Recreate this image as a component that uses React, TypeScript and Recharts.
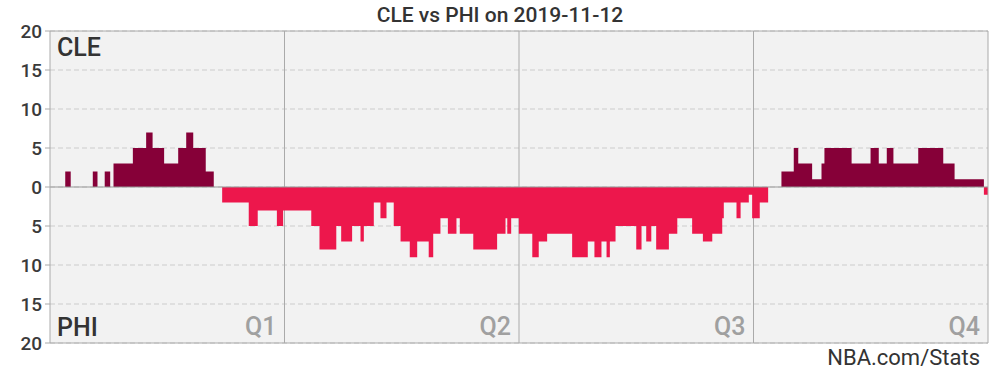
import {
  ComposedChart,
  Area,
  XAxis,
  YAxis,
  CartesianGrid,
  ReferenceLine,
} from 'recharts'

// game clock in minutes where the margin changes, and the margin (CLE - PHI) from then on
const changeTimes = [
  0, 0.78, 1.06, 2.19, 2.43, 2.8, 3.08, 3.25, 4.24, 4.92, 5.25, 5.84, 6.56, 6.97, 7.33,
  7.97, 8.38, 8.81, 10.17, 10.63, 11.61, 11.93, 13.37, 13.79, 14.65, 14.9, 15.46, 15.89,
  16.06, 16.57, 16.91, 17.22, 17.59, 17.94, 18.41, 18.79, 19.38, 19.61, 19.98, 20.36,
  20.8, 20.97, 21.66, 22.88, 23.31, 23.4, 23.6, 23.99, 24.68, 25.01, 25.44, 26.72, 27.52,
  27.86, 28.22, 28.48, 28.65, 28.94, 30.0, 30.27, 30.51, 30.77, 31.02, 31.67, 32.1,
  32.86, 33.41, 33.89, 34.4, 34.48, 35.13, 35.34, 35.76, 35.93, 36.32, 36.75, 37.43,
  38.06, 38.29, 39.0, 39.48, 39.63, 41.02, 41.99, 42.41, 42.82, 43.16, 44.43, 45.71,
  46.29, 47.79,
]
const margins = [
  0, 2, 0, 2, 0, 2, 0, 3, 5, 7, 5, 3, 5, 7, 5,
  2, 0, -2, -5, -3, -5, -3, -5, -8, -5, -7, -5, -7,
  -5, -2, -4, -2, -5, -7, -9, -7, -9, -6, -4, -6,
  -4, -6, -8, -6, -4, -6, -4, -6, -9, -7, -6, -9, -7,
  -9, -7, -9, -7, -5, -8, -5, -7, -5, -8, -6, -4,
  -6, -7, -6, -4, -2, -4, -2, -1, -4, -2, 0, 2,
  5, 3, 1, 3, 5, 3, 5, 3, 5, 3, 5, 3,
  1, -1,
]
const gameEnd = 48
const quarterEnds = [12, 24, 36]
const quarterLabels = ['Q1', 'Q2', 'Q3', 'Q4']
const yTicks = [-20, -15, -10, -5, 0, 5, 10, 15, 20]

const CLE_COLOR = '#860038'
const PHI_COLOR = '#ED174C'
const BORDER = '#aaaaaa'

export default function App() {
  const data = changeTimes.map((t, i) => ({
    t,
    cle: Math.max(margins[i], 0),
    phi: Math.min(margins[i], 0),
  }))
  const last = margins[margins.length - 1]
  data.push({ t: gameEnd, cle: Math.max(last, 0), phi: Math.min(last, 0) })

  // quarter lines sit under the areas, so they go in the grid
  const quarterX = ({ offset }: any) =>
    offset ? quarterEnds.map((q) => offset.left + (offset.width * q) / gameEnd) : []

  return (
    <div
      style={{
        position: 'absolute',
        left: 0,
        top: 0,
        width: 1000,
        height: 375,
        fontFamily: 'Roboto, sans-serif',
        background: '#fff',
      }}
    >
      <div
        style={{
          position: 'absolute',
          top: 3,
          width: 1000,
          textAlign: 'center',
          fontSize: 21,
          fontWeight: 500,
          color: '#333',
        }}
      >
        CLE vs PHI on 2019-11-12
      </div>
      <ComposedChart
        width={1000}
        height={375}
        data={data}
        margin={{ top: 31, right: 12, bottom: 32, left: 0 }}
      >
        <CartesianGrid
          vertical={false}
          stroke="#cccccc"
          strokeDasharray="5 3"
          fill="#f2f2f2"
        />
        <CartesianGrid
          horizontal={false}
          stroke={BORDER}
          verticalCoordinatesGenerator={quarterX}
        />
        <XAxis
          dataKey="t"
          type="number"
          domain={[0, gameEnd]}
          ticks={quarterEnds}
          height={0}
          tick={false}
          tickLine={false}
          axisLine={false}
        />
        <YAxis
          type="number"
          domain={[-20, 20]}
          ticks={yTicks}
          width={50}
          interval={0}
          tickFormatter={(v: number) => String(Math.abs(v))}
          tick={{ fontSize: 19, fill: '#3a3a3a', fontWeight: 500 }}
          tickSize={5}
          tickMargin={3}
          stroke={BORDER}
        />
        <Area
          dataKey="cle"
          type="stepAfter"
          stroke="none"
          fill={CLE_COLOR}
          fillOpacity={1}
          isAnimationActive={false}
        />
        <Area
          dataKey="phi"
          type="stepAfter"
          stroke="none"
          fill={PHI_COLOR}
          fillOpacity={1}
          isAnimationActive={false}
        />
        <ReferenceLine y={0} stroke="#999" />
        <ReferenceLine
          y={20}
          stroke={BORDER}
          label={{ value: 'CLE', position: 'insideTopLeft', offset: 7, fontSize: 25, fontWeight: 500, fill: '#333' }}
        />
        <ReferenceLine
          y={-20}
          stroke={BORDER}
          label={{ value: 'PHI', position: 'insideBottomLeft', offset: 7, fontSize: 25, fontWeight: 500, fill: '#333' }}
        />
        {[...quarterEnds, gameEnd].map((q, i) => (
          <ReferenceLine
            key={q}
            x={q}
            stroke={q === gameEnd ? BORDER : 'none'}
            label={{
              value: quarterLabels[i],
              position: 'insideBottomRight',
              offset: 8,
              fontSize: 25,
              fontWeight: 500,
              fill: '#a0a0a0',
            }}
          />
        ))}
      </ComposedChart>
      <div
        style={{
          position: 'absolute',
          right: 20,
          top: 345,
          fontSize: 22,
          color: '#333',
        }}
      >
        NBA.com/Stats
      </div>
    </div>
  )
}
